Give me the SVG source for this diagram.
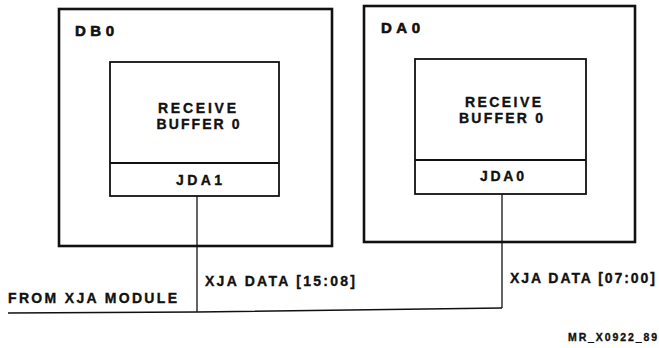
<svg xmlns="http://www.w3.org/2000/svg" width="659" height="348" viewBox="0 0 659 348">
<style>
text{font-family:"Liberation Sans",Arial,sans-serif;font-weight:bold;fill:#111;stroke:#111;stroke-width:0.35;}
.lbl{font-size:14px;}
.title{font-size:15px;stroke-width:0.6;}
.ctr{text-anchor:middle;}
.outer{fill:none;stroke:#111;stroke-width:2.6;}
.inner{fill:none;stroke:#111;stroke-width:1.8;}
.wire{fill:none;stroke:#111;stroke-width:1.3;}
.small{font-size:10.5px;stroke-width:0.35;}
</style>
<rect width="659" height="348" fill="#fff"/>
<g id="DB0">
<rect class="outer" x="59" y="9" width="273" height="237"/>
<text class="title" x="75" y="36" textLength="39" lengthAdjust="spacing">DB0</text>
</g>
<g id="RB0_left">
<rect class="inner" x="110" y="62" width="169" height="134"/>
<line class="inner" x1="110" y1="163" x2="279" y2="163"/>
<text class="lbl ctr" x="197" y="113" textLength="78" lengthAdjust="spacing">RECEIVE</text>
<text class="lbl ctr" x="198" y="129" textLength="83" lengthAdjust="spacing">BUFFER 0</text>
<text class="lbl ctr" x="199" y="185" textLength="46" lengthAdjust="spacing">JDA1</text>
</g>
<g id="DA0">
<rect class="outer" x="364" y="6" width="271" height="236"/>
<text class="title" x="381" y="33" textLength="39" lengthAdjust="spacing">DA0</text>
</g>
<g id="RB0_right">
<rect class="inner" x="415" y="59" width="171" height="135"/>
<line class="inner" x1="415" y1="160" x2="586" y2="160"/>
<text class="lbl ctr" x="503" y="107" textLength="76" lengthAdjust="spacing">RECEIVE</text>
<text class="lbl ctr" x="501" y="123" textLength="84" lengthAdjust="spacing">BUFFER 0</text>
<text class="lbl ctr" x="502" y="181" textLength="44" lengthAdjust="spacing">JDA0</text>
</g>
<g id="connectors">
<polyline class="wire" points="8,313 197,312 502,308"/>
<line class="wire" x1="197" y1="196" x2="197" y2="312"/>
<line class="wire" x1="502" y1="194" x2="502" y2="308"/>
</g>
<text class="lbl" x="205" y="286" textLength="150" lengthAdjust="spacing">XJA DATA [15:08]</text>
<text class="lbl" x="510" y="283" textLength="145" lengthAdjust="spacing">XJA DATA [07:00]</text>
<text class="lbl" x="8" y="303" textLength="169" lengthAdjust="spacing">FROM XJA MODULE</text>
<text class="small" x="568" y="341" textLength="89" lengthAdjust="spacing">MR_X0922_89</text>
</svg>
